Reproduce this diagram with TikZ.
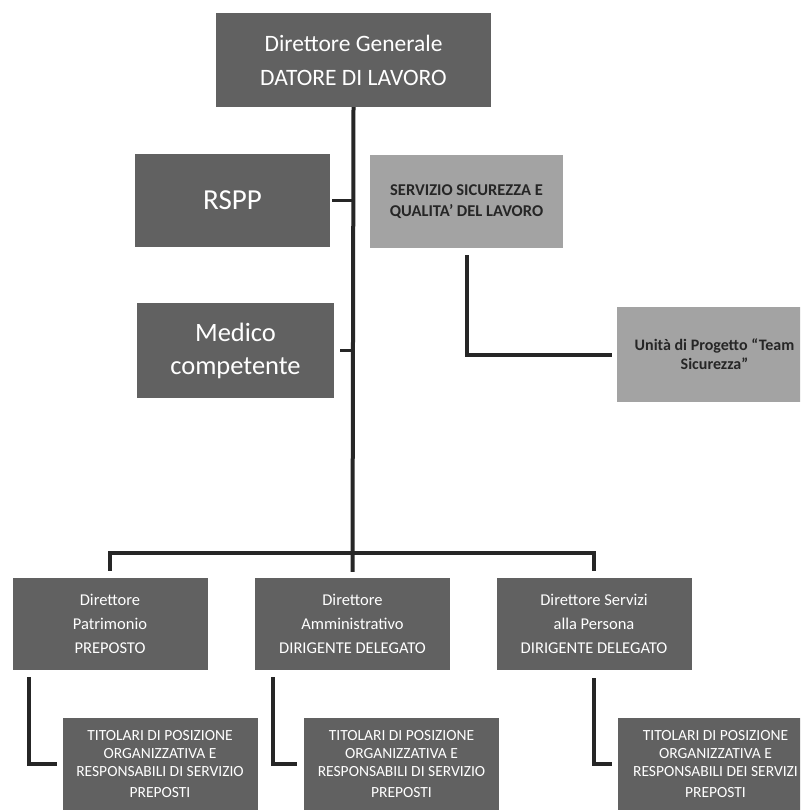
\documentclass[tikz,border=0pt]{standalone}
\usepackage{fontspec}
\setmainfont{Carlito}
\usetikzlibrary{calc}

\begin{document}
\begin{tikzpicture}[x=1pt,y=-1pt,
  darkbox/.style={rectangle,fill=black!62,text=white,minimum width=195pt,minimum height=92pt,inner sep=0pt,align=center},
  lightbox/.style={darkbox,fill=black!36,text=black!85,font=\bfseries\fontsize{16.5}{21}\selectfont},
  link/.style={draw=black!85,line width=4pt}]
    \clip (0,0) rectangle (800,810);
    \fill[white] (0,0) rectangle (800,810);
    % vertici
    \node[darkbox,minimum width=275pt,minimum height=94pt,font=\fontsize{23.5}{34}\selectfont] (dg) at (353.5,60) {Direttore Generale\\DATORE DI LAVORO};
    \node[darkbox,minimum height=93pt,font=\fontsize{29}{34}\selectfont] (rspp) at (232.5,200.5) {RSPP};
    \node[lightbox,minimum width=193pt,minimum height=93pt] (ssq) at (466.5,201.5) {SERVIZIO SICUREZZA E\\QUALITA' DEL LAVORO};
    \node[darkbox,minimum width=197pt,minimum height=95pt,font=\fontsize{26.5}{33}\selectfont] (mc) at (235.5,350.5) {Medico\\competente};
    \node[lightbox,minimum height=95pt,font=\bfseries\fontsize{16}{19}\selectfont] (team) at (714.5,354.5) {Unità di Progetto “Team\\Sicurezza”};
    % direttori
    \foreach \n/\x/\t in {dp/110/{Direttore\\Patrimonio\\PREPOSTO},
                          da/352.5/{Direttore\\Amministrativo\\DIRIGENTE DELEGATO},
                          dsp/594/{Direttore Servizi\\alla Persona\\DIRIGENTE DELEGATO}}
      \node[darkbox,font=\fontsize{16.5}{24}\selectfont] (\n) at (\x,624) {\t};
    % titolari
    \foreach \n/\x/\t in {tp1/160/{RESPONSABILI DI SERVIZIO},
                          tp2/401.5/{RESPONSABILI DI SERVIZIO},
                          tp3/715.5/{RESPONSABILI DEI SERVIZI}}
      \node[darkbox,font=\fontsize{15.5}{18}\selectfont] (\n) at (\x,764) {TITOLARI DI POSIZIONE\\ORGANIZZATIVA E\\\t\\[3pt]PREPOSTI};
    % collegamenti
    \draw[link] (dg.south) -- ([yshift=6pt]da.north);
    \draw[link,line width=3pt] ([xshift=2pt]rspp.east) -- (rspp.east -| dg.south);
    \draw[link,line width=3pt] ([xshift=6pt]mc.east) -- (mc.east -| dg.south);
    \draw[link] ([yshift=-7pt]ssq.south) |- ([xshift=-5pt]team.west);
    \draw[link] ([yshift=7pt]dp.north) -- ([yshift=25pt]dp.north) -- ([yshift=25pt]dsp.north) -- ([yshift=7pt]dsp.north);
    \draw[link] ([xshift=17pt,yshift=-7pt]dp.south west) |- ([xshift=-5pt]tp1.west);
    \draw[link] ([xshift=18pt,yshift=-7pt]da.south west) |- ([xshift=-7pt]tp2.west);
    \draw[link] ([yshift=-8pt]dsp.south) |- ([xshift=-6pt]tp3.west);
\end{tikzpicture}
\end{document}
